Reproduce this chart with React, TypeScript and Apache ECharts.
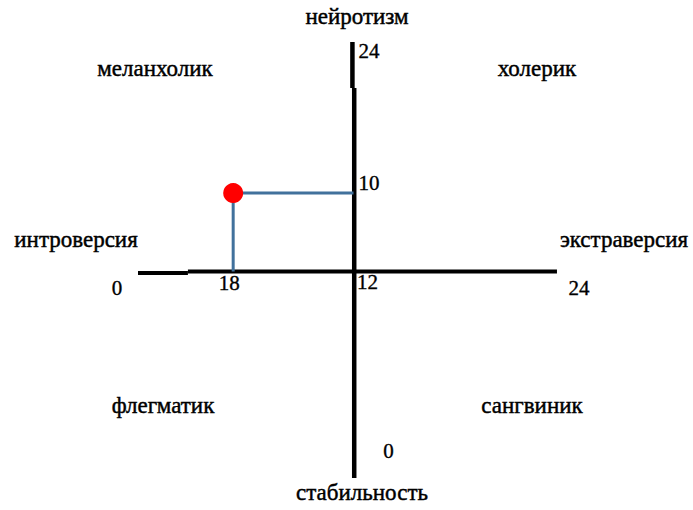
import { useEffect, useRef } from 'react';
import * as echarts from 'echarts';

// Axis titles: top, bottom, left, right
const axisTitles = ['нейротизм', 'стабильность', 'интроверсия', 'экстраверсия'];
// Temperament quadrants: top-left, top-right, bottom-left, bottom-right
const quadrantNames = ['меланхолик', 'холерик', 'флегматик', 'сангвиник'];
// Scale tick labels: start, middle, end
const scaleTicks = ['0', '12', '24'];
// Subject's scores (extraversion, neuroticism) as printed
const subjectScores = ['18', '10'];
// Subject's marker position on the diagram (chart units)
const subjectPoint = [5.3, 16.1];
// Scale bounds
const scaleMin = 0;
const scaleMid = 12;
const scaleMax = 24;
// Drawn axis segments (chart units)
const hAxisSegments = [
  [[0, 11.92], [2.78, 11.92]],
  [[2.78, 12.0], [23.33, 12.0]],
];
const vAxisSegments = [
  [[11.94, 24], [11.94, 21.6]],
  [[12.04, 21.6], [12.04, 1.2]],
];

const FONT = '"Liberation Serif", "Times New Roman", serif';

export default function App() {
  const ref = useRef<HTMLDivElement>(null);

  useEffect(() => {
    if (!ref.current) return;
    const chart = echarts.init(ref.current, undefined, { renderer: 'svg' });

    const axisLine = (seg: number[][], width: number) => ({
      type: 'line',
      data: seg,
      symbol: 'none',
      silent: true,
      lineStyle: { color: '#000000', width },
      z: 2,
    });

    const tickLabel = (text: string, value: number[], offset: number[]) => ({
      value,
      label: {
        show: true,
        formatter: text,
        position: 'inside',
        offset,
        align: 'center',
        verticalAlign: 'middle',
        color: '#000000',
        opacity: 1,
        fontFamily: FONT,
        fontSize: 21,
        textBorderColor: '#000000',
        textBorderWidth: 0.35,
      },
    });

    const wordStyle = (text: string) => ({
      text,
      fill: '#000000',
      stroke: '#000000',
      lineWidth: 0.45,
      fontFamily: FONT,
      fontSize: 23,
      align: 'center',
      verticalAlign: 'middle',
    });

    const words = [
      { t: axisTitles[0], x: 357, y: 16 },
      { t: axisTitles[1], x: 362, y: 492 },
      { t: axisTitles[2], x: 76, y: 239 },
      { t: axisTitles[3], x: 624, y: 239 },
      { t: quadrantNames[0], x: 155, y: 68 },
      { t: quadrantNames[1], x: 537, y: 68 },
      { t: quadrantNames[2], x: 163, y: 405 },
      { t: quadrantNames[3], x: 532, y: 405 },
    ];

    chart.setOption({
      animation: false,
      backgroundColor: '#ffffff',
      grid: { left: 138, right: 124, top: 42, bottom: 9 },
      xAxis: { type: 'value', min: scaleMin, max: scaleMax, show: false },
      yAxis: { type: 'value', min: scaleMin, max: scaleMax, show: false },
      graphic: words.map((w) => ({
        type: 'text',
        x: w.x,
        y: w.y,
        silent: true,
        style: wordStyle(w.t),
      })),
      series: [
        ...hAxisSegments.map((s) => axisLine(s, 4)),
        ...vAxisSegments.map((s) => axisLine(s, 4.5)),
        {
          type: 'line',
          data: [subjectPoint, [scaleMid, subjectPoint[1]]],
          symbol: 'none',
          silent: true,
          lineStyle: { color: '#41719C', width: 3 },
          z: 3,
        },
        {
          type: 'line',
          data: [subjectPoint, [subjectPoint[0], scaleMid]],
          symbol: 'none',
          silent: true,
          lineStyle: { color: '#41719C', width: 3 },
          z: 3,
        },
        {
          type: 'scatter',
          data: [subjectPoint],
          symbol: 'circle',
          symbolSize: 20,
          silent: true,
          itemStyle: { color: '#FF0000', opacity: 1 },
          z: 5,
        },
        {
          type: 'scatter',
          symbolSize: 0,
          silent: true,
          itemStyle: { opacity: 1 },
          z: 6,
          data: [
            tickLabel(scaleTicks[2], [scaleMid, scaleMax], [15.5, 9]),
            tickLabel(subjectScores[1], [scaleMid, subjectPoint[1]], [15.5, -10]),
            tickLabel(scaleTicks[1], [scaleMid, scaleMid], [14, 10]),
            tickLabel(subjectScores[0], [subjectPoint[0], scaleMid], [-4, 11.5]),
            tickLabel(scaleTicks[0], [scaleMin, scaleMid], [-21, 16.5]),
            tickLabel(scaleTicks[2], [scaleMax, scaleMid], [10, 16.5]),
            tickLabel(scaleTicks[0], [scaleMid, scaleMin], [35, -50]),
          ],
        },
      ],
    });

    return () => chart.dispose();
  }, []);

  return (
    <div
      ref={ref}
      style={{ position: 'absolute', left: 0, top: 0, width: 693, height: 510, background: '#fff' }}
    />
  );
}
